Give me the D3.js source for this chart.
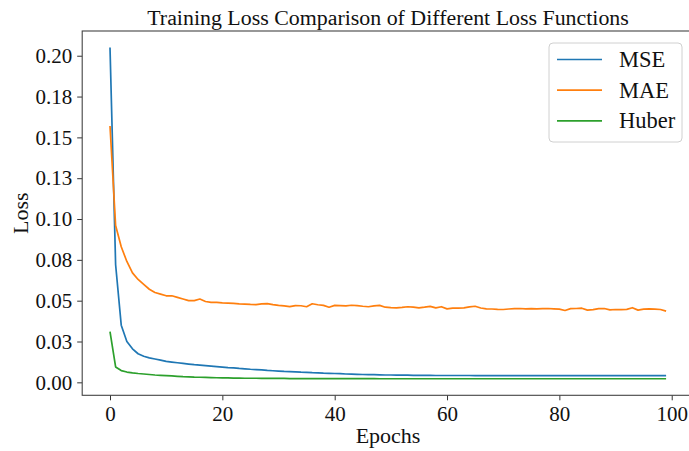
<!DOCTYPE html>
<html>
<head>
<meta charset="utf-8">
<script src="https://d3js.org/d3.v7.min.js"></script>
<style>
  html, body { margin: 0; padding: 0; background: #fff; }
  svg { display: block; }
  text { font-family: "Liberation Serif", "Times New Roman", serif; fill: #111; }
</style>
</head>
<body>
<script>
// ---- data ----
var epochs = d3.range(0, 100);

var mse = [
  0.205, 0.072, 0.035, 0.025, 0.0205, 0.0175, 0.0160, 0.0150, 0.0143, 0.0136,
  0.0128, 0.0124, 0.0120, 0.0116, 0.0112, 0.0108, 0.0105, 0.0102, 0.0099, 0.0096,
  0.0093, 0.0090, 0.0088, 0.0085, 0.0083, 0.0080, 0.0078, 0.0076, 0.0073, 0.0071,
  0.0069, 0.0067, 0.0066, 0.0064, 0.0062, 0.0061, 0.0059, 0.0058, 0.0056, 0.0055,
  0.0054, 0.0053, 0.0051, 0.0050, 0.0049, 0.0048, 0.0047, 0.0047, 0.0046, 0.0045,
  0.0045, 0.0044, 0.0044, 0.0044, 0.0043, 0.0043, 0.0043, 0.0043, 0.0042, 0.0042,
  0.0042, 0.0042, 0.0042, 0.0042, 0.0042, 0.0041, 0.0042, 0.0041, 0.0041, 0.0041,
  0.0041, 0.0041, 0.0041, 0.0041, 0.0041, 0.0041, 0.0041, 0.0041, 0.0041, 0.0041,
  0.0041, 0.0041, 0.0041, 0.0041, 0.0041, 0.0041, 0.0041, 0.0041, 0.0041, 0.0041,
  0.0041, 0.0041, 0.0041, 0.0041, 0.0041, 0.0041, 0.0041, 0.0041, 0.0041, 0.0041
];

var mae = [
  0.157, 0.096, 0.083, 0.074, 0.067, 0.063, 0.060, 0.057, 0.055, 0.054,
  0.053, 0.053, 0.052, 0.051, 0.050, 0.050, 0.051, 0.0495, 0.049, 0.049,
  0.0487, 0.0485, 0.0483, 0.0480, 0.0479, 0.0477, 0.0476, 0.0480, 0.0482, 0.0476,
  0.0471, 0.0468, 0.0464, 0.0470, 0.0469, 0.0463, 0.0481, 0.0475, 0.0471, 0.0460,
  0.0471, 0.0470, 0.0468, 0.0472, 0.0470, 0.0466, 0.0463, 0.0468, 0.0471, 0.0460,
  0.0457, 0.0456, 0.0459, 0.0463, 0.0460, 0.0456, 0.0460, 0.0465, 0.0456, 0.0463,
  0.0450, 0.0454, 0.0455, 0.0456, 0.0462, 0.0466, 0.0455, 0.0450, 0.0449, 0.0447,
  0.0446, 0.0449, 0.0451, 0.0452, 0.0450, 0.0451, 0.0450, 0.0451, 0.0452, 0.0450,
  0.0448, 0.0440, 0.0451, 0.0452, 0.0454, 0.0442, 0.0445, 0.0451, 0.0452, 0.0444,
  0.0446, 0.0445, 0.0447, 0.0457, 0.0442, 0.0448, 0.0450, 0.0448, 0.0446, 0.0436
];

var huber = [
  0.031, 0.0094, 0.0072, 0.0063, 0.0058, 0.0054, 0.0051, 0.0048, 0.0045, 0.0043,
  0.0041, 0.0039, 0.0037, 0.0035, 0.0034, 0.0032, 0.0031, 0.0030, 0.0029, 0.0028,
  0.0027, 0.0027, 0.0026, 0.0026, 0.0025, 0.0025, 0.0025, 0.0024, 0.0024, 0.0024,
  0.0024, 0.0024, 0.0023, 0.0023, 0.0023, 0.0023, 0.0023, 0.0023, 0.0023, 0.0023,
  0.0023, 0.0023, 0.0023, 0.0023, 0.0023, 0.0023, 0.0023, 0.0023, 0.0022, 0.0022,
  0.0022, 0.0022, 0.0022, 0.0022, 0.0022, 0.0022, 0.0022, 0.0022, 0.0022, 0.0022,
  0.0022, 0.0022, 0.0022, 0.0022, 0.0022, 0.0022, 0.0022, 0.0022, 0.0022, 0.0022,
  0.0022, 0.0022, 0.0022, 0.0022, 0.0022, 0.0022, 0.0022, 0.0022, 0.0022, 0.0022,
  0.0022, 0.0022, 0.0022, 0.0022, 0.0022, 0.0022, 0.0022, 0.0022, 0.0022, 0.0022,
  0.0022, 0.0022, 0.0022, 0.0022, 0.0022, 0.0022, 0.0022, 0.0022, 0.0022, 0.0022
];

var seriesNames = ["MSE", "MAE", "Huber"];
var seriesColors = ["#1f77b4", "#ff7f0e", "#2ca02c"];

var xTicks = [0, 20, 40, 60, 80, 100];
var yTicks = [0, 0.025, 0.05, 0.075, 0.1, 0.125, 0.15, 0.175, 0.2];
var yTickLabels = ["0.00", "0.03", "0.05", "0.08", "0.10", "0.13", "0.15", "0.18", "0.20"];

// ---- layout ----
var W = 689, H = 451;
var plot = { left: 82.2, right: 693.9, top: 31, bottom: 395.3 };

var svg = d3.select("body").append("svg")
    .attr("width", W)
    .attr("height", H);

// matplotlib style 5% margins
var xMin = 0, xMax = 99;
var xPad = (xMax - xMin) * 0.05;
var all = mse.concat(mae, huber);
var yLo = d3.min(all), yHi = d3.max(all);
var yPad = (yHi - yLo) * 0.05;

var x = d3.scaleLinear()
    .domain([xMin - xPad, xMax + xPad])
    .range([plot.left, plot.right]);

var y = d3.scaleLinear()
    .domain([yLo - yPad, yHi + yPad])
    .range([plot.bottom, plot.top]);

// axes
var xAxis = svg.append("g")
    .attr("transform", "translate(0," + plot.bottom + ")")
    .call(d3.axisBottom(x).tickValues(xTicks).tickSizeOuter(0).tickSize(5).tickPadding(6));

var yAxis = svg.append("g")
    .attr("transform", "translate(" + plot.left + ",0)")
    .call(d3.axisLeft(y).tickValues(yTicks).tickSizeOuter(0).tickSize(5).tickPadding(5)
      .tickFormat(function(d, i) { return yTickLabels[i]; }));

[xAxis, yAxis].forEach(function(g) {
  g.select(".domain").remove();
  g.selectAll(".tick line").attr("stroke", "#333").attr("stroke-width", 1);
  g.selectAll(".tick text")
    .style("font-family", "'Liberation Serif', 'Times New Roman', serif")
    .style("font-size", "21px")
    .attr("fill", "#111");
});

// frame
svg.append("rect")
    .attr("x", plot.left)
    .attr("y", plot.top)
    .attr("width", plot.right - plot.left)
    .attr("height", plot.bottom - plot.top)
    .attr("fill", "none")
    .attr("stroke", "#444")
    .attr("stroke-width", 1.1);

// lines
var line = d3.line()
    .x(function(d, i) { return x(epochs[i]); })
    .y(function(d) { return y(d); });

[mse, mae, huber].forEach(function(s, k) {
  svg.append("path")
      .datum(s)
      .attr("fill", "none")
      .attr("stroke", seriesColors[k])
      .attr("stroke-width", 1.7)
      .attr("stroke-linejoin", "round")
      .attr("d", line);
});

// title and labels
svg.append("text")
    .attr("x", (plot.left + plot.right) / 2)
    .attr("y", 25)
    .attr("text-anchor", "middle")
    .style("font-size", "21.9px")
    .text("Training Loss Comparison of Different Loss Functions");

svg.append("text")
    .attr("x", (plot.left + plot.right) / 2)
    .attr("y", 443)
    .attr("text-anchor", "middle")
    .style("font-size", "22px")
    .text("Epochs");

svg.append("text")
    .attr("transform", "translate(28," + ((plot.top + plot.bottom) / 2) + ") rotate(-90)")
    .attr("text-anchor", "middle")
    .style("font-size", "22px")
    .text("Loss");

// legend
var legend = svg.append("g");
legend.append("rect")
    .attr("x", 549)
    .attr("y", 43)
    .attr("width", 133)
    .attr("height", 99)
    .attr("rx", 4)
    .attr("fill", "#fff")
    .attr("fill-opacity", 0.8)
    .attr("stroke", "#d0d0d0")
    .attr("stroke-width", 1);

seriesNames.forEach(function(name, i) {
  var yy = 59.5 + i * 30.7;
  legend.append("line")
      .attr("x1", 557).attr("x2", 602)
      .attr("y1", yy).attr("y2", yy)
      .attr("stroke", seriesColors[i])
      .attr("stroke-width", 1.7);
  legend.append("text")
      .attr("x", 619)
      .attr("y", yy + 7.5)
      .style("font-size", "22.5px")
      .text(name);
});
</script>
</body>
</html>
